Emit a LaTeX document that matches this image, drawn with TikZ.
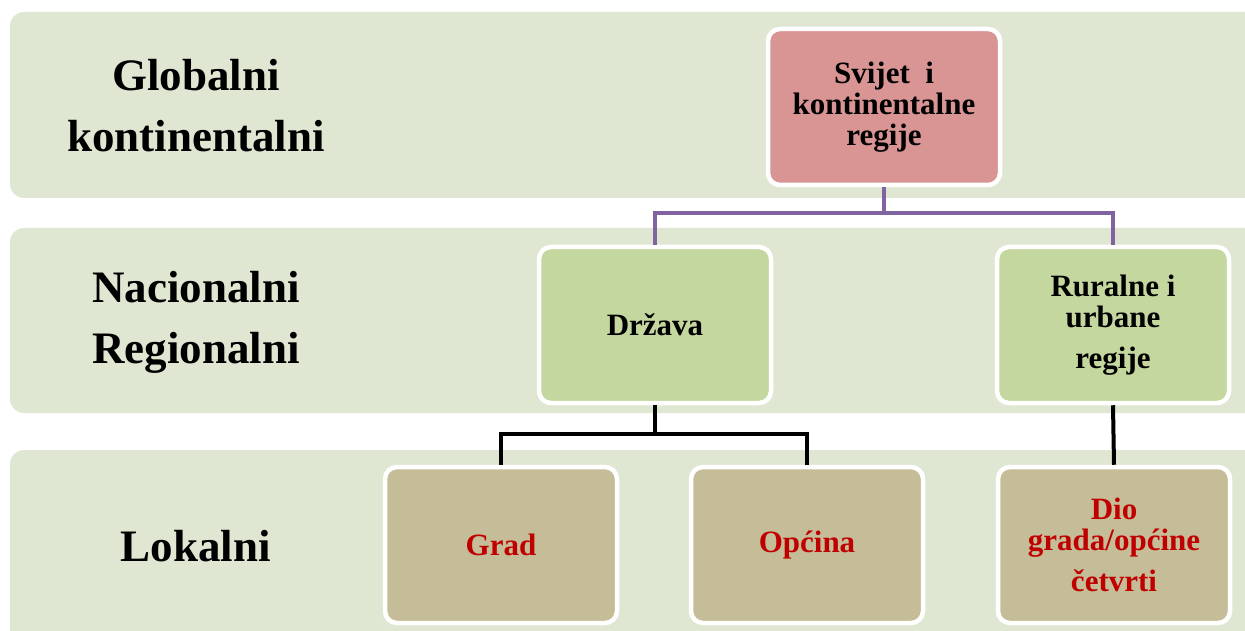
\documentclass[tikz,border=0pt]{standalone}
\usepackage{fontspec}
\setmainfont{Liberation Serif}
\begin{document}
\begin{tikzpicture}[x=1pt,y=-1pt,
  band/.style={fill=bandc,rounded corners=14pt},
  box/.style={draw=white,line width=4.5pt,rounded corners=12pt,minimum width=232pt,minimum height=156pt,align=center,font=\bfseries\fontsize{31}{31}\selectfont,inner sep=0pt},
  lbl/.style={align=center,font=\bfseries\fontsize{45}{61}\selectfont},
  pconn/.style={draw=purplec,line width=4pt},
  kconn/.style={draw=black,line width=4pt}]
\definecolor{bandc}{HTML}{DFE7D3}
\definecolor{redc}{HTML}{D99594}
\definecolor{greenc}{HTML}{C4D79F}
\definecolor{tanc}{HTML}{C4BD97}
\definecolor{purplec}{HTML}{8064A2}
\definecolor{textred}{HTML}{C00000}
\useasboundingbox (0,0) rectangle (1245,631);
\fill[white] (0,0) rectangle (1245,631);
\fill[band] (10,12) rectangle (1265,198);
\fill[band] (10,228) rectangle (1265,413);
\fill[band] (10,450) rectangle (1265,660);
\node[lbl] (lg) at (196,106) {Globalni\\kontinentalni};
\node[lbl] (ln) at (196,322) {Nacionalni\\Regionalni};
\node[lbl] (ll) at (196,546) {Lokalni};
\node[box,fill=redc] (top) at (884,107) {Svijet\ \ i\\kontinentalne\\regije};
\node[box,fill=greenc] (drz) at (655,325) {Država};
\node[box,fill=greenc] (rur) at (1113,325) {Ruralne i\\urbane\\[10pt]regije};
\node[box,fill=tanc,text=textred] (grad) at (501,545) {Grad};
\node[box,fill=tanc,text=textred] (opc) at (807,545) {Općina};
\node[box,fill=tanc,text=textred] (dio) at (1114,545) {Dio\\grada/općine\\[10pt]četvrti};
\coordinate (pj) at (884,213);
\coordinate (kj) at (655,434);
\draw[pconn] (top.south) -- (pj);
\draw[pconn] (pj) -| (drz.north);
\draw[pconn] (pj) -| (rur.north);
\draw[kconn] (drz.south) -- (kj);
\draw[kconn] (kj) -| (grad.north);
\draw[kconn] (kj) -| (opc.north);
\draw[kconn] (rur.south) -- (dio.north);
\end{tikzpicture}
\end{document}
